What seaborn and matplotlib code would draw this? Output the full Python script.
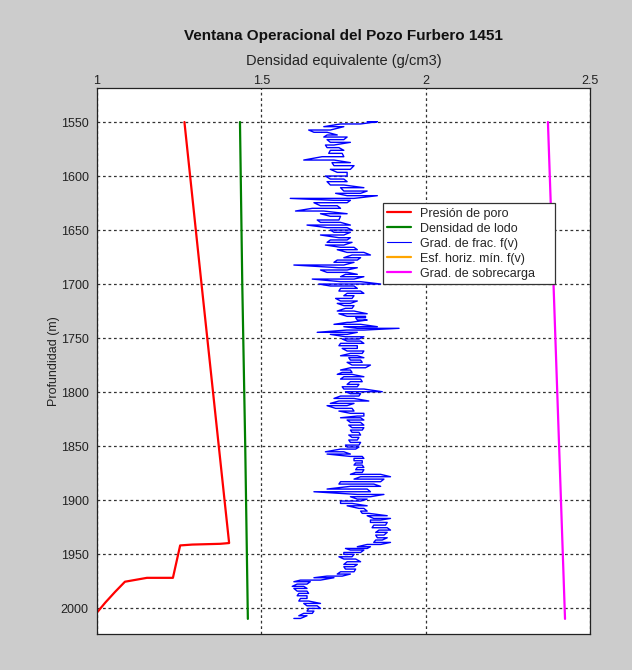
import numpy as np
import pandas as pd
import matplotlib
matplotlib.use("Agg")
import matplotlib.pyplot as plt
from matplotlib.lines import Line2D
import seaborn as sns

# ---------------- data ----------------
title = "Ventana Operacional del Pozo Furbero 1451"
x_label = "Densidad equivalente (g/cm3)"
y_label = "Profundidad (m)"
x_ticks = [1, 1.5, 2, 2.5]
y_ticks = [1550, 1600, 1650, 1700, 1750, 1800, 1850, 1900, 1950, 2000]

legend_labels = ["Presión de poro", "Densidad de lodo", "Grad. de frac. f(v)",
                 "Esf. horiz. mín. f(v)", "Grad. de sobrecarga"]

# pore pressure (red)
pore_depth = [1550, 1700, 1800, 1900, 1939.8, 1940.5, 1941.2, 1942.0, 1972.0, 1972.0, 1975.6, 1985.0, 1995.0, 2003.4]
pore_dens = [1.266, 1.318, 1.353, 1.388, 1.402, 1.375, 1.290, 1.253, 1.231, 1.152, 1.085, 1.055, 1.025, 1.002]

# mud density (green)
mud_depth = [1550, 1700, 1850, 2010]
mud_dens = [1.435, 1.442, 1.451, 1.459]

# overburden gradient (magenta)
ob_depth = [1550, 1700, 1850, 2010]
ob_dens = [2.372, 2.389, 2.406, 2.424]

# fracture gradient f(v) (blue): depth with left / right extent of each wiggle
frac_depth = [
    1549.7, 1551.8, 1554.3, 1557.4, 1559.5, 1562.0, 1563.9, 1566.3, 1568.8, 1571.3,
    1573.7, 1576.2, 1579.0, 1582.1, 1585.2, 1587.6, 1590.4, 1593.8, 1596.6, 1600.0,
    1602.8, 1605.2, 1608.3, 1610.8, 1613.9, 1616.0, 1618.2, 1620.7, 1622.5, 1624.7,
    1627.5, 1629.9, 1632.4, 1634.9, 1637.3,
    1640.7, 1642.9, 1645.4, 1647.8, 1650.0, 1652.1, 1654.6, 1657.1, 1659.2, 1661.4,
    1663.9, 1666.0, 1668.2, 1670.7, 1673.1, 1675.6, 1677.8, 1679.9, 1682.4, 1684.9,
    1687.0, 1689.2, 1691.0, 1693.2, 1695.4, 1697.8, 1700.0, 1701.8, 1704.0, 1706.5,
    1708.6, 1710.8, 1713.3, 1715.7, 1717.9, 1720.0, 1722.5, 1725.0, 1727.5, 1729.9,
    1731.2, 1733.3, 1735.5, 1737.3, 1739.5, 1741.0, 1742.6, 1744.7, 1746.6, 1748.8,
    1750.9, 1752.8, 1754.9, 1757.1, 1759.6, 1762.0, 1764.2, 1766.4, 1768.2, 1770.4,
    1772.5, 1775.0, 1777.5, 1779.6, 1781.8, 1783.6, 1785.8, 1788.0, 1790.4, 1792.9,
    1795.1, 1797.2, 1799.7, 1801.5, 1803.7, 1805.9, 1808.3, 1810.5, 1812.6, 1815.1,
    1817.6, 1819.7, 1822.2,
    1823.8, 1825.9, 1828.1, 1830.6, 1833.0, 1835.2, 1837.3, 1839.8, 1842.0, 1844.4,
    1846.6, 1849.1, 1850.9, 1852.8, 1855.3, 1857.4, 1859.6, 1861.4, 1863.6, 1865.7,
    1867.6, 1869.8, 1871.9, 1874.4, 1876.2, 1878.4, 1880.6, 1883.0, 1885.2, 1887.3,
    1889.8, 1892.3, 1894.8, 1896.9, 1899.1, 1900.9, 1903.1, 1905.3, 1907.7, 1910.2,
    1912.3, 1914.5, 1917.0,
    1918.5, 1920.7, 1923.2, 1925.6, 1927.8, 1929.9, 1932.4, 1934.9, 1937.0, 1939.2,
    1941.1, 1943.2, 1944.8, 1946.3, 1948.5, 1950.3, 1952.5, 1954.6, 1957.1, 1959.6,
    1961.7, 1963.9, 1966.4, 1968.5, 1970.4, 1971.9, 1974.1, 1975.6, 1977.8, 1979.9,
    1981.8, 1984.3, 1986.4, 1988.6, 1991.1, 1993.5, 1995.7, 1997.9, 2000.3, 2002.8,
    2004.9, 2007.1, 2009.6,
]
frac_lo = [
    1.822, 1.741, 1.690, 1.644, 1.660, 1.700, 1.690, 1.700, 1.710, 1.695,
    1.700, 1.710, 1.705, 1.685, 1.629, 1.715, 1.721, 1.710, 1.731, 1.695,
    1.710, 1.700, 1.710, 1.741, 1.751, 1.726, 1.761, 1.588, 1.721, 1.660,
    1.680, 1.655, 1.604, 1.680, 1.710,
    1.670, 1.680, 1.639, 1.700, 1.710, 1.721, 1.680, 1.736, 1.710, 1.700,
    1.695, 1.741, 1.731, 1.761, 1.776, 1.751, 1.731, 1.721, 1.599, 1.736,
    1.680, 1.700, 1.756, 1.741, 1.655, 1.741, 1.675, 1.710, 1.741, 1.736,
    1.761, 1.751, 1.726, 1.741, 1.731, 1.751, 1.756, 1.731, 1.736, 1.761,
    1.787, 1.792, 1.761, 1.721, 1.751, 1.792, 1.761, 1.670, 1.710, 1.756,
    1.746, 1.761, 1.741, 1.736, 1.746, 1.761, 1.771, 1.741, 1.766, 1.771,
    1.761, 1.776, 1.771, 1.741, 1.746, 1.731, 1.751, 1.741, 1.771, 1.761,
    1.746, 1.751, 1.756, 1.771, 1.741, 1.721, 1.736, 1.710, 1.700, 1.726,
    1.736, 1.771, 1.792,
    1.741, 1.761, 1.771, 1.766, 1.776, 1.771, 1.776, 1.766, 1.776, 1.766,
    1.771, 1.756, 1.761, 1.741, 1.695, 1.700, 1.771, 1.782, 1.782, 1.787,
    1.782, 1.792, 1.787, 1.787, 1.771, 1.802, 1.782, 1.741, 1.736, 1.771,
    1.700, 1.660, 1.792, 1.771, 1.792, 1.741, 1.741, 1.761, 1.797, 1.802,
    1.807, 1.822, 1.842,
    1.832, 1.832, 1.842, 1.837, 1.858, 1.848, 1.848, 1.853, 1.848, 1.842,
    1.822, 1.792, 1.756, 1.771, 1.751, 1.751, 1.736, 1.751, 1.761, 1.751,
    1.751, 1.756, 1.741, 1.731, 1.700, 1.660, 1.619, 1.599, 1.609, 1.594,
    1.599, 1.609, 1.614, 1.609, 1.619, 1.614, 1.629, 1.639, 1.644, 1.639,
    1.629, 1.614, 1.599,
]
frac_hi = [
    1.853, 1.802, 1.751, 1.710, 1.700, 1.731, 1.761, 1.751, 1.771, 1.721,
    1.736, 1.751, 1.746, 1.751, 1.721, 1.771, 1.782, 1.771, 1.761, 1.761,
    1.751, 1.761, 1.751, 1.812, 1.822, 1.802, 1.853, 1.782, 1.771, 1.761,
    1.731, 1.741, 1.690, 1.761, 1.741,
    1.736, 1.741, 1.771, 1.761, 1.776, 1.771, 1.751, 1.771, 1.761, 1.776,
    1.751, 1.782, 1.792, 1.812, 1.832, 1.802, 1.792, 1.782, 1.751, 1.792,
    1.761, 1.761, 1.792, 1.812, 1.782, 1.802, 1.863, 1.782, 1.792, 1.802,
    1.812, 1.782, 1.776, 1.792, 1.771, 1.782, 1.776, 1.782, 1.822, 1.817,
    1.817, 1.822, 1.771, 1.802, 1.853, 1.919, 1.812, 1.792, 1.761, 1.812,
    1.797, 1.802, 1.812, 1.792, 1.792, 1.812, 1.807, 1.792, 1.812, 1.802,
    1.807, 1.832, 1.817, 1.771, 1.776, 1.776, 1.812, 1.802, 1.807, 1.797,
    1.792, 1.812, 1.868, 1.802, 1.797, 1.782, 1.827, 1.782, 1.761, 1.776,
    1.782, 1.812, 1.812,
    1.802, 1.812, 1.802, 1.812, 1.812, 1.807, 1.797, 1.802, 1.797, 1.792,
    1.802, 1.797, 1.797, 1.787, 1.751, 1.771, 1.807, 1.812, 1.807, 1.807,
    1.807, 1.812, 1.812, 1.807, 1.863, 1.893, 1.873, 1.863, 1.842, 1.863,
    1.822, 1.832, 1.873, 1.832, 1.822, 1.802, 1.776, 1.822, 1.812, 1.822,
    1.827, 1.883, 1.893,
    1.863, 1.883, 1.878, 1.883, 1.893, 1.883, 1.873, 1.883, 1.868, 1.893,
    1.863, 1.832, 1.822, 1.812, 1.802, 1.782, 1.776, 1.787, 1.802, 1.792,
    1.782, 1.787, 1.782, 1.771, 1.746, 1.721, 1.680, 1.649, 1.639, 1.629,
    1.639, 1.639, 1.644, 1.639, 1.639, 1.644, 1.680, 1.670, 1.680, 1.660,
    1.655, 1.639, 1.619,
]
assert len(frac_depth) == len(frac_lo) == len(frac_hi)

# wiggle path: each reading traversed left<->right, alternating direction
path_d, path_x = [], []
for i, (d, lo, hi) in enumerate(zip(frac_depth, frac_lo, frac_hi)):
    a, b = (lo, hi) if i % 2 == 0 else (hi, lo)
    path_d += [d, d]
    path_x += [a, b]
frac_df = pd.DataFrame({"dens": path_x, "depth": path_d})
pore_df = pd.DataFrame({"dens": pore_dens, "depth": pore_depth})
mud_df = pd.DataFrame({"dens": mud_dens, "depth": mud_depth})
ob_df = pd.DataFrame({"dens": ob_dens, "depth": ob_depth})

# ---------------- style ----------------
sns.set_style("white")
plt.rcParams["font.family"] = ["Liberation Sans", "DejaVu Sans"]

c_red = "#ff0000"
c_green = "#008000"
c_blue = "#0000ff"
c_orange = "#ffa500"
c_mag = "#ff00ff"

fig = plt.figure(figsize=(6.32, 6.70), dpi=100, facecolor="#cccccc")
ax = fig.add_axes([97 / 632, 36 / 670, 493 / 632, 546 / 670])
ax.set_facecolor("white")

sns.lineplot(data=frac_df, x="dens", y="depth", sort=False, estimator=None,
             color=c_blue, lw=1.0, ax=ax)
sns.lineplot(data=pore_df, x="dens", y="depth", sort=False, estimator=None,
             color=c_red, lw=1.6, ax=ax)
sns.lineplot(data=mud_df, x="dens", y="depth", sort=False, estimator=None,
             color=c_green, lw=1.6, ax=ax)
sns.lineplot(data=ob_df, x="dens", y="depth", sort=False, estimator=None,
             color=c_mag, lw=1.6, ax=ax)

ax.set_xlim(1, 2.5)
ax.set_ylim(2024, 1518.5)
ax.set_xticks(x_ticks)
ax.set_xticklabels([f"{t:g}" for t in x_ticks])
ax.set_yticks(y_ticks)
ax.xaxis.tick_top()
ax.xaxis.set_label_position("top")
ax.tick_params(axis="both", labelsize=9, colors="#222222", length=3,
               width=0.8, direction="out", pad=3)
ax.tick_params(axis="x", length=0, pad=1.0)

ax.grid(True, color="#333333", linestyle=(0, (2.2, 2.2)), linewidth=0.9)
for s in ax.spines.values():
    s.set_color("#222222")
    s.set_linewidth(0.9)
    s.set_visible(True)

ax.set_xlabel(x_label, fontsize=10.5, color="#222222", labelpad=7)
ax.set_ylabel(y_label, fontsize=9, color="#222222", labelpad=0.5)
fig.text((97 + 590) / 2 / 632, 1 - 36 / 670, title, ha="center", va="center",
         fontsize=11, fontweight="bold", color="#111111")

handles = [
    Line2D([], [], color=c_red, lw=1.6),
    Line2D([], [], color=c_green, lw=1.6),
    Line2D([], [], color=c_blue, lw=0.8),
    Line2D([], [], color=c_orange, lw=1.6),
    Line2D([], [], color=c_mag, lw=1.6),
]
leg = ax.legend(handles, legend_labels, loc="upper left",
                bbox_to_anchor=(0.580, 0.0, 0.349, 0.789), mode="expand",
                fontsize=9, frameon=True,
                fancybox=False, framealpha=1, edgecolor="#333333",
                borderpad=0.35, labelspacing=0.24, handlelength=1.9,
                handletextpad=0.7, borderaxespad=0)
leg.get_frame().set_linewidth(0.9)

fig.savefig("out.png", dpi=100, facecolor=fig.get_facecolor())
